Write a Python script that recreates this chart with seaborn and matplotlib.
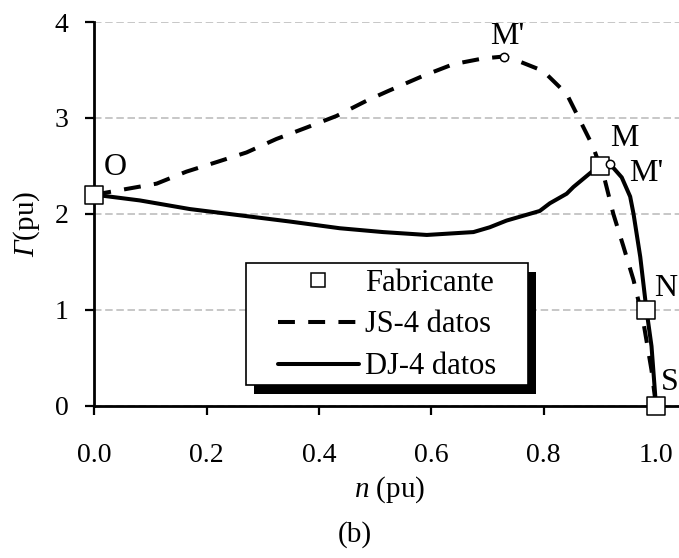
import matplotlib
matplotlib.use("Agg")
import matplotlib.pyplot as plt
from matplotlib.patches import Rectangle
from matplotlib.lines import Line2D
import seaborn as sns
import pandas as pd

# Manufacturer points O, M, N, S
fab_n = [0.0, 0.9, 0.983, 1.0]
fab_g = [2.2, 2.5, 1.0, 0.0]
fab_names = ["O", "M", "N", "S"]

# JS model, 4 data points
js_n = [0.0, 0.111, 0.164, 0.218, 0.271, 0.324, 0.378, 0.431, 0.485, 0.523,
        0.586, 0.639, 0.692, 0.729, 0.752, 0.799, 0.841, 0.865, 0.888, 0.909,
        0.924, 0.942, 0.960, 0.977, 0.992, 1.0]
js_g = [2.2, 2.315, 2.44, 2.54, 2.64, 2.78, 2.90, 3.02, 3.18, 3.28,
        3.44, 3.56, 3.62, 3.64, 3.60, 3.49, 3.25, 2.97, 2.70, 2.35,
        2.00, 1.66, 1.31, 0.89, 0.37, 0.0]

# DJ model, 4 data points
dj_n = [0.0, 0.081, 0.170, 0.259, 0.348, 0.437, 0.514, 0.592, 0.675, 0.704,
        0.734, 0.793, 0.811, 0.841, 0.853, 0.888, 0.918, 0.939, 0.954, 0.960,
        0.972, 0.983, 0.992, 1.0]
dj_g = [2.2, 2.14, 2.05, 1.985, 1.92, 1.85, 1.81, 1.78, 1.81, 1.86,
        1.93, 2.03, 2.11, 2.21, 2.28, 2.45, 2.52, 2.38, 2.18, 2.00,
        1.55, 1.0, 0.62, 0.0]

# Maximum-torque points M' of each model
mp_n = [0.729, 0.918]
mp_g = [3.64, 2.52]

x_ticks = [0.0, 0.2, 0.4, 0.6, 0.8, 1.0]
y_ticks = [0, 1, 2, 3, 4]

sns.set_theme(style="white")
plt.rcParams["font.family"] = ["Liberation Serif", "DejaVu Serif"]
plt.rcParams["mathtext.fontset"] = "custom"
plt.rcParams["mathtext.rm"] = "Liberation Serif"
plt.rcParams["mathtext.it"] = "Liberation Serif:italic"
plt.rcParams["mathtext.sf"] = "Liberation Serif:italic"

W, H = 679, 558
fig = plt.figure(figsize=(W / 100, H / 100), dpi=100)
ax_l, ax_r, ax_t, ax_b = 94.3, 679.0, 22.0, 405.7
ax = fig.add_axes([ax_l / W, 1 - ax_b / H, (ax_r - ax_l) / W, (ax_b - ax_t) / H])

df_js = pd.DataFrame({"n": js_n, "g": js_g})
df_dj = pd.DataFrame({"n": dj_n, "g": dj_g})
df_fab = pd.DataFrame({"n": fab_n, "g": fab_g})
df_mp = pd.DataFrame({"n": mp_n, "g": mp_g})

lw = 2.9
dash = (4.2, 3.3)
sns.lineplot(data=df_js, x="n", y="g", ax=ax, color="black", lw=lw,
             sort=False, estimator=None)
js_line = ax.lines[-1]
js_line.set_dashes(dash)
js_line.set_dash_capstyle("butt")
sns.lineplot(data=df_dj, x="n", y="g", ax=ax, color="black", lw=lw,
             sort=False, estimator=None)
for ln in ax.lines:
    ln.set_zorder(3)

sns.scatterplot(data=df_fab, x="n", y="g", ax=ax, marker="s", s=185,
                facecolor="white", edgecolor="black", linewidth=1.1, zorder=6)
ax.collections[-1].set_clip_on(False)
sns.scatterplot(data=df_mp, x="n", y="g", ax=ax, marker="o", s=36,
                facecolor="white", edgecolor="black", linewidth=1.1, zorder=6)
ax.collections[-1].set_clip_on(False)

ax.set_xlim(0, (ax_r - ax_l) / 561.7)
ax.set_ylim(0, 4)
ax.set_xticks(x_ticks)
ax.set_xticklabels([f"{v:.1f}" for v in x_ticks])
ax.set_yticks(y_ticks)
ax.set_yticklabels([str(v) for v in y_ticks])
ax.tick_params(axis="both", direction="out", length=6.5, width=1.6,
               color="black", labelsize=20, labelcolor="black")
ax.tick_params(axis="x", pad=20, bottom=True)
ax.tick_params(axis="y", pad=12, left=True)

for side in ["top", "right"]:
    ax.spines[side].set_visible(False)
for side in ["left", "bottom"]:
    ax.spines[side].set_color("black")
    ax.spines[side].set_linewidth(2.0)
    ax.spines[side].set_zorder(4)

ax.yaxis.grid(True, color="#bdbdbd", lw=1.2, linestyle=(0, (4.5, 2.2)))
ax.xaxis.grid(False)
ax.set_axisbelow(True)

ax.set_xlabel(r"$n$ (pu)", fontsize=21, color="black")
ax.xaxis.set_label_coords((390 - ax_l) / (ax_r - ax_l), (ax_b - 490) / (ax_b - ax_t))
ax.xaxis.label.set_va("center")
ax.set_ylabel(r"$\mathsf{\Gamma}$(pu)", fontsize=21, color="black")
ax.yaxis.set_label_coords((26.5 - ax_l) / (ax_r - ax_l), (ax_b - 224) / (ax_b - ax_t))
ax.yaxis.label.set_va("center")

# Point names
lab_fs = 23
point_labels = [
    ("O", (fab_n[0], fab_g[0]), (14.9, 19.9), "center"),
    ("M", (fab_n[1], fab_g[1]), (18.0, 19.4), "center"),
    ("N", (fab_n[2], fab_g[2]), (5.8, 15.0), "left"),
    ("S", (fab_n[3], fab_g[3]), (3.6, 16.6), "left"),
    ("M'", (mp_n[0], mp_g[0]), (2.5, 14.5), "center"),
    ("M'", (mp_n[1], mp_g[1]), (26.0, -7.0), "center"),
]
for txt, xy, off, ha in point_labels:
    ax.annotate(txt, xy=xy, xytext=off, textcoords="offset points",
                ha=ha, va="center", fontsize=lab_fs, color="black",
                annotation_clip=False, zorder=7)

# Legend box with drop shadow
bx0, by0, bx1, by1 = 246, 263, 528, 385
shadow = Rectangle(((bx0 + 8) / W, 1 - (by1 + 9) / H), (bx1 - bx0) / W,
                   (by1 - by0) / H, transform=fig.transFigure,
                   facecolor="black", edgecolor="black", lw=0, zorder=20)
box = Rectangle((bx0 / W, 1 - by1 / H), (bx1 - bx0) / W, (by1 - by0) / H,
                transform=fig.transFigure, facecolor="white",
                edgecolor="black", lw=1.2, zorder=21)
fig.patches.extend([shadow, box])

handles = [
    Line2D([], [], ls="none", marker="s", ms=10, mfc="white", mec="black", mew=1.1),
    Line2D([], [], color="black", lw=lw, ls=(0, dash)),
    Line2D([], [], color="black", lw=lw),
]
labels = ["Fabricante", "JS-4 datos", "DJ-4 datos"]
leg = fig.legend(handles, labels, loc="center",
                 bbox_to_anchor=((bx0 + bx1) / 2 / W, 1 - (by0 + by1 + 2) / 2 / H),
                 frameon=False, fontsize=22, handlelength=2.65,
                 handletextpad=0.22, labelspacing=0.42, borderpad=0.0,
                 borderaxespad=0.0)
leg.set_zorder(22)
for t in leg.get_texts():
    t.set_color("black")

fig.text(355 / W, 1 - 535 / H, "(b)", fontsize=21, ha="center", va="center",
         color="black")

fig.savefig("out.png", dpi=100)
